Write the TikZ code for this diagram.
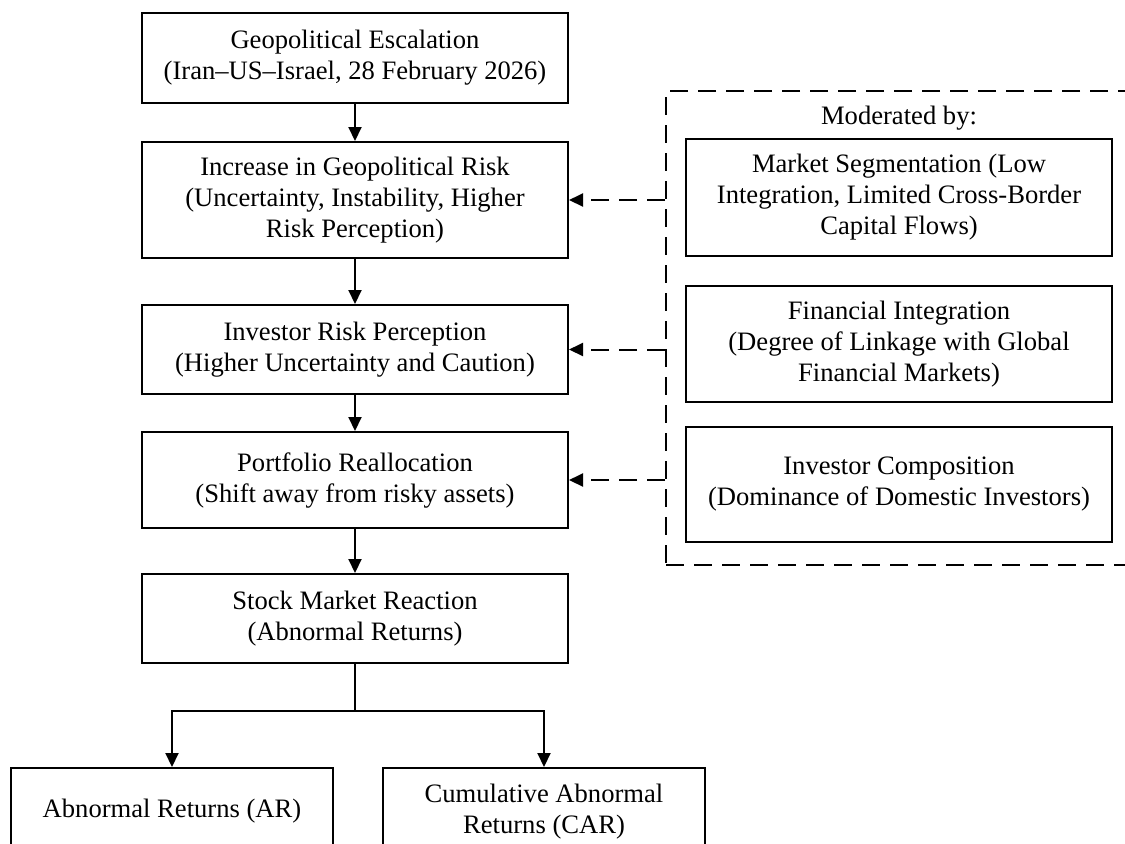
\documentclass[tikz,border=0pt]{standalone}
\usepackage{fontspec}
\setmainfont{Liberation Serif}
\usetikzlibrary{arrows.meta}
\begin{document}
\begin{tikzpicture}[x=0.5pt,y=-0.5pt,
  txt/.style={font=\fontsize{13.3}{15.5}\selectfont,align=center,inner sep=0pt},
  box/.style={txt,draw,line width=1pt,minimum width=213pt},
  arr/.style={line width=1pt,-{Triangle[width=6.5pt,length=7pt]}},
  darr/.style={arr,dash pattern=on 9pt off 5pt},
  modbox/.style={draw,line width=1pt,dash pattern=on 9pt off 5pt,minimum width=237pt,minimum height=237pt,inner sep=0pt}]
\clip (0,0) rectangle (1125,843);
% main column
\node[box,minimum height=45pt] (b1) at (355,58) {Geopolitical Escalation\\(Iran–US–Israel, 28 February 2026)};
\node[box,minimum height=58pt] (b2) at (355,200) {Increase in Geopolitical Risk\\(Uncertainty, Instability, Higher\\Risk Perception)};
\node[box,minimum height=44.5pt] (b3) at (355,349.5) {Investor Risk Perception\\(Higher Uncertainty and Caution)};
\node[box,minimum height=48pt] (b4) at (355,480) {Portfolio Reallocation\\(Shift away from risky assets)};
\node[box,minimum height=44.5pt] (b5) at (355,618.5) {Stock Market Reaction\\(Abnormal Returns)};
% outcome boxes
\node[box,minimum width=161pt,minimum height=43.5pt] (ar) at (172,811.5) {Abnormal Returns (AR)};
\node[box,minimum width=161pt,minimum height=43.5pt] (car) at (544,811.5) {Cumulative Abnormal\\Returns (CAR)};
% moderators
\node[modbox] (mod) at (903,328) {};
\node[txt] (lbl) at (899,118) {Moderated by:};
\node[box,minimum height=58.5pt] (m1) at (899,197.5) {Market Segmentation (Low\\Integration, Limited Cross-Border\\Capital Flows)};
\node[box,minimum height=58pt] (m2) at (899,344) {Financial Integration\\(Degree of Linkage with Global\\Financial Markets)};
\node[box,minimum height=57.5pt] (m3) at (899,484.5) {Investor Composition\\(Dominance of Domestic Investors)};
% main arrows
\draw[arr] (b1) -- (b2);
\draw[arr] (b2) -- (b3);
\draw[arr] (b3) -- (b4);
\draw[arr] (b4) -- (b5);
\coordinate (split) at (355,711);
\draw[line width=1pt] (b5.south) -- (split);
\draw[arr] (split) -| (ar.north);
\draw[arr] (split) -| (car.north);
% moderating arrows
\draw[darr] (mod.west |- b2.east) -- (b2.east);
\draw[darr] (mod.west |- b3.east) -- (b3.east);
\draw[darr] (mod.west |- b4.east) -- (b4.east);
\end{tikzpicture}
\end{document}
